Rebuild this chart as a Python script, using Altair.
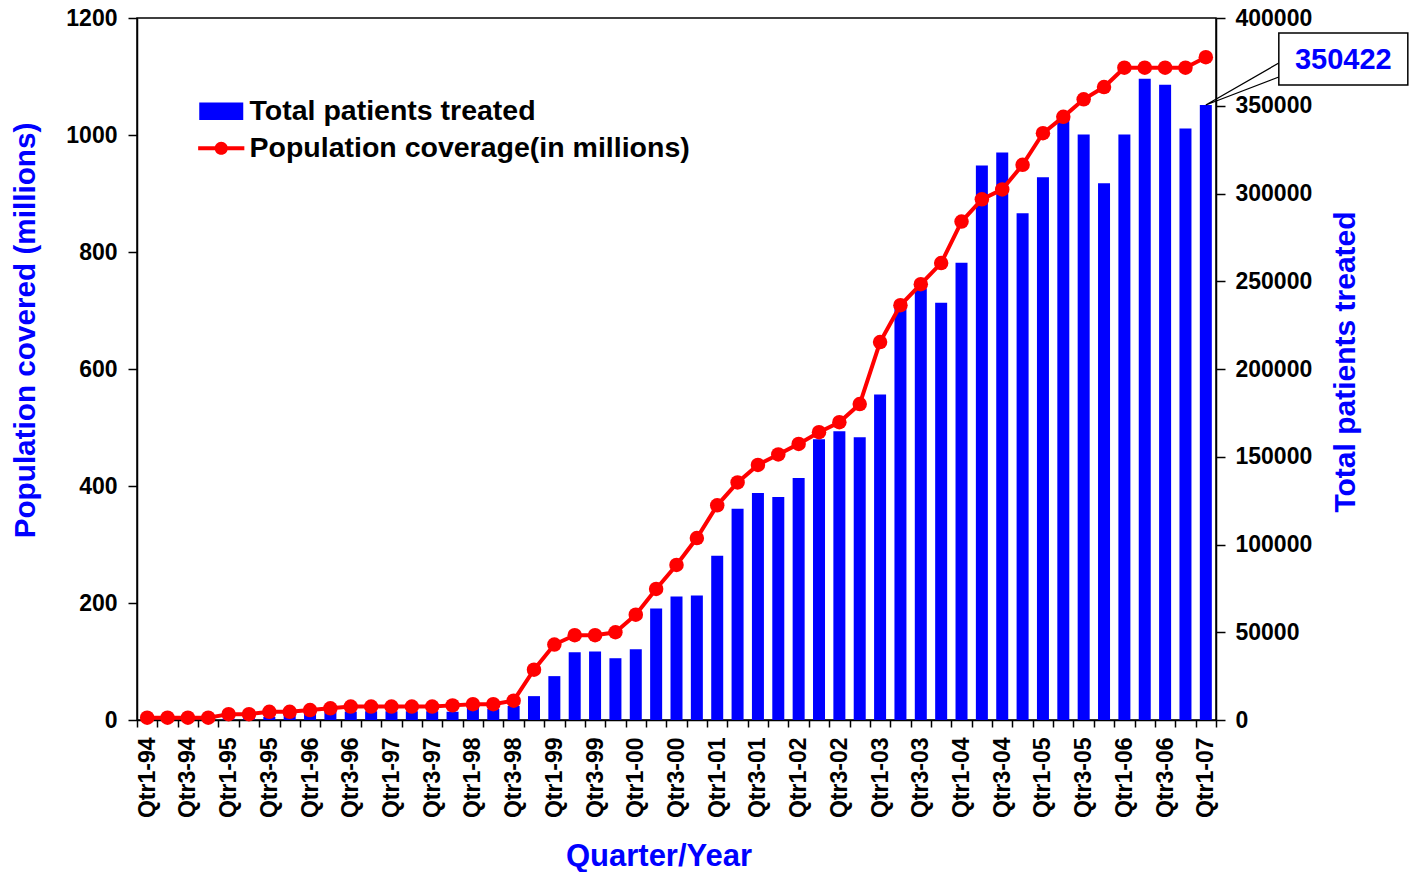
import altair as alt
import pandas as pd

years = ["94", "95", "96", "97", "98", "99", "00", "01", "02", "03", "04", "05", "06"]
quarters = [f"Qtr{q}-{y}" for y in years for q in range(1, 5)] + ["Qtr1-07"]

population = [4, 4, 4, 4, 10, 10, 14, 14, 17, 20, 23, 23, 23, 23, 23, 25, 27, 27, 33, 86,
              129, 145, 145, 150, 180, 224, 265, 311, 367, 406, 436, 454, 472, 492, 509, 540,
              646, 709, 745, 781, 852, 890, 907, 949, 1003, 1031, 1061, 1082, 1115, 1115, 1115,
              1115, 1133]

patients = [200, 300, 400, 500, 800, 1000, 1800, 3400, 3600, 4700,
            4800, 5000, 5000, 5000, 5000, 4700, 7400, 6400, 8000, 13600,
            25000, 38600, 39100, 35200, 40300, 63500, 70400, 70900, 93600, 120300,
            129400, 127100, 137900, 160000, 164500, 161100, 185500, 235000, 246000, 237700,
            260600, 316000, 323400, 288800, 309200, 343000, 333600, 305800, 333600, 365400,
            362000, 337000, 350422]

series_names = ["Total patients treated", "Population coverage(in millions)"]
series_colors = ["#0000FF", "#FF0000"]

left_ticks = [0, 200, 400, 600, 800, 1000, 1200]
right_ticks = [0, 50000, 100000, 150000, 200000, 250000, 300000, 350000, 400000]

df = pd.DataFrame({
    "quarter": quarters,
    "population": population,
    "patients": patients,
    "s_bar": series_names[0],
    "s_line": series_names[1],
})
ann = pd.DataFrame({"quarter": [quarters[-1]], "patients": [patients[-1]]})

FONT = "Liberation Sans"
BLUE = "#0000FF"

color_scale = alt.Scale(domain=series_names, range=series_colors)

rect_path = "M-2.0,-0.8H2.0V0.8H-2.0Z"
line_path = ("M-2.1,-0.18H2.1V0.18H-2.1Z "
             "M-0.6,0 A0.6,0.6 0 1,1 0.6,0 A0.6,0.6 0 1,1 -0.6,0 Z")

legend = alt.Legend(
    title=None, orient="none", legendX=70, legendY=79,
    labelFont=FONT, labelFontWeight="bold", labelFontSize=28.5, labelColor="black",
    labelLimit=0, symbolSize=484, labelOffset=14, rowPadding=8,
    symbolType=alt.ExprRef(expr=f"datum.value === '{series_names[0]}' ? '{rect_path}' : '{line_path}'"),
    symbolFillColor=alt.ExprRef(expr=f"datum.value === '{series_names[0]}' ? '{series_colors[0]}' : '{series_colors[1]}'"),
    symbolStrokeWidth=0, symbolOpacity=1,
)

x_enc = alt.X(
    "quarter:N", sort=quarters,
    scale=alt.Scale(paddingInner=0, paddingOuter=0),
    axis=alt.Axis(
        title="Quarter/Year", titleFont=FONT, titleFontWeight="bold", titleFontSize=31,
        titleColor=BLUE, titleX=521.5, titleY=145, titleBaseline="alphabetic",
        titleAlign="center",
        labelAngle=270, labelAlign="right", labelBaseline="middle",
        labelFont=FONT, labelFontWeight="bold", labelFontSize=23, labelColor="black",
        labelPadding=10, tickSize=7, tickBand="extent", tickColor="black", tickWidth=1.5,
        domainColor="black", domainWidth=1.5, grid=False,
        labelExpr="(indexof(datum.label,'Qtr1')==0 || indexof(datum.label,'Qtr3')==0) ? datum.label : ''",
    ),
)

bars = alt.Chart(df).mark_bar(size=12).encode(
    x=x_enc,
    y=alt.Y("patients:Q", scale=alt.Scale(domain=[0, 400000], nice=False),
            axis=alt.Axis(
                orient="right", values=right_ticks, format="d",
                title="Total patients treated", titleFont=FONT, titleFontWeight="bold",
                titleFontSize=30, titleColor=BLUE, titleAngle=270, titleBaseline="bottom",
                titleAlign="center", titleX=144, titleY=343.5,
                labelFont=FONT, labelFontWeight="bold", labelFontSize=23, labelColor="black",
                labelPadding=10, tickSize=9, tickColor="black", tickWidth=1.5,
                domainColor="black", domainWidth=1.5, grid=False)),
    color=alt.Color("s_bar:N", scale=color_scale, legend=legend),
)

line = alt.Chart(df).mark_line(
    strokeWidth=4,
    point=alt.OverlayMarkDef(filled=True, size=210, opacity=1),
).encode(
    x=x_enc,
    y=alt.Y("population:Q", scale=alt.Scale(domain=[0, 1200], nice=False),
            axis=alt.Axis(
                orient="left", values=left_ticks, format="d",
                title="Population covered (millions)", titleFont=FONT, titleFontWeight="bold",
                titleFontSize=29.7, titleColor=BLUE, titleAngle=270, titleBaseline="bottom",
                titleAlign="center", titleX=-97, titleY=312,
                labelFont=FONT, labelFontWeight="bold", labelFontSize=23, labelColor="black",
                labelPadding=11, tickSize=9, tickColor="black", tickWidth=1.5,
                domainColor="black", domainWidth=1.5, grid=False)),
    color=alt.Color("s_line:N", scale=color_scale, legend=legend),
)

ann_y = alt.Y("patients:Q", scale=alt.Scale(domain=[0, 400000], nice=False), axis=None)

leader = alt.Chart(ann).mark_point(
    shape="M0,0L73,-42M0,0L73,-28", size=4, filled=False,
    stroke="black", strokeWidth=1.3, opacity=1,
).encode(x=alt.X("quarter:N", sort=quarters), y=ann_y)

box = alt.Chart(ann).mark_point(
    shape="M73,-72H202V-20H73Z", size=4, filled=True,
    fill="white", stroke="black", strokeWidth=1.5, opacity=1,
).encode(x=alt.X("quarter:N", sort=quarters), y=ann_y)

label = alt.Chart(ann).mark_text(
    font=FONT, fontWeight="bold", fontSize=29, color=BLUE,
    align="center", baseline="alphabetic", dx=137.5, dy=-36,
).encode(x=alt.X("quarter:N", sort=quarters), y=ann_y,
         text=alt.Text("patients:Q", format="d"))

chart = alt.layer(bars, line, leader, box, label).resolve_scale(
    y="independent"
).properties(
    width=1079, height=702,
    padding={"left": 129, "top": 10, "right": 193, "bottom": 152},
    autosize=alt.AutoSizeParams(type="none"),
).configure_view(
    stroke="black", strokeWidth=1.5
)

chart.save("out.html", embed_options={"renderer": "svg", "actions": False})
